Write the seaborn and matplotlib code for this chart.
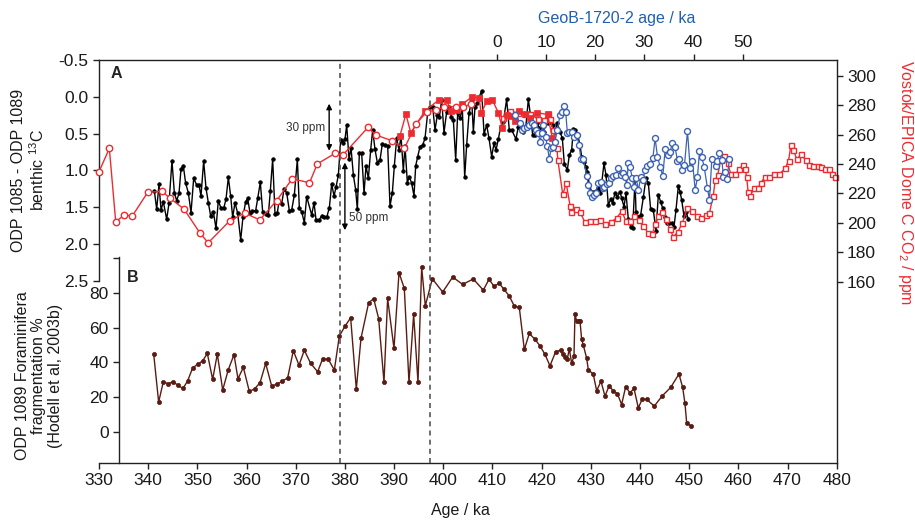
import matplotlib
matplotlib.use('Agg')
from matplotlib import pyplot as plt
import seaborn as sns

# ---- datos ----
# A: ODP 1085 - ODP 1089 benthic d13C (eje izquierdo, invertido)
age_d13c = [341.25, 341.73, 342.20, 342.61, 343.08, 343.76, 344.23, 344.84, 345.32, 345.79,
            346.27, 346.67, 347.15, 347.62, 348.16, 348.71, 349.25, 349.86, 350.33, 350.74,
            351.28, 351.76, 352.23, 352.71, 353.25, 353.79, 354.26, 354.81, 355.35, 355.82,
            356.30, 356.77, 357.18, 357.65, 358.20, 358.81, 359.28, 359.82, 360.23, 360.70,
            361.18, 361.86, 362.26, 362.80, 363.28, 363.89, 364.43, 364.84, 365.31, 365.79,
            366.26, 366.60, 367.14, 367.62, 368.16, 368.70, 369.18, 369.72, 370.33, 370.74,
            371.21, 371.75, 372.23, 373.25, 373.72, 374.13, 374.74, 375.28, 375.82, 376.30,
            376.84, 377.31, 377.79, 378.19, 378.67, 379.14, 379.55, 380.02, 380.36, 380.84,
            381.24, 381.72, 382.19, 382.53, 382.94, 383.41, 383.89, 384.29, 384.77, 385.24,
            385.65, 386.12, 386.60, 387.14, 387.61, 388.16, 388.70, 389.17, 389.65, 390.05,
            390.53, 391.00, 391.41, 391.88, 392.22, 392.70, 393.10, 393.58, 394.05, 394.39,
            394.80, 395.27, 395.82, 396.29, 396.83, 397.31, 397.85, 398.32, 398.80, 399.20,
            399.68, 400.15, 400.70, 401.17, 401.64, 402.05, 402.53, 402.93, 403.41, 403.88,
            404.36, 404.76, 405.24, 405.78, 406.12, 406.46, 406.93, 407.34, 407.81, 408.29,
            408.83, 409.30, 409.84, 410.32, 410.72, 411.20, 411.67, 412.21, 412.89, 413.43,
            413.91, 414.79, 415.26, 415.74, 416.28, 416.76, 417.30, 417.77, 418.18, 418.65,
            419.13, 419.53, 420.01, 420.48, 420.89, 421.36, 421.70, 422.25, 422.72, 423.20,
            423.74, 424.21, 424.62, 425.23, 425.63, 426.11, 426.45, 426.79, 427.33, 427.80,
            428.14, 428.62, 429.02, 429.29, 429.70, 430.18, 430.65, 431.06, 431.53, 431.87,
            432.21, 432.68, 433.09, 433.56, 434.04, 434.45, 434.92, 435.39, 435.94, 436.28,
            436.75, 437.16, 437.63, 438.11, 438.51, 438.99, 439.19, 439.66, 440.14, 440.68,
            441.22, 441.70, 442.17, 442.71, 443.26, 443.73, 444.21, 444.61, 445.09, 445.56,
            445.97, 446.44, 446.92, 447.32, 447.80, 448.14, 448.48, 448.95, 449.36, 449.83]
d13c = [1.276, 1.530, 1.190, 1.539, 1.426, 1.666, 1.448, 0.873, 1.303, 1.412,
        1.312, 0.985, 0.940, 1.176, 1.303, 1.575, 1.108, 1.199, 1.199, 1.349,
        0.873, 1.244, 1.439, 1.621, 1.562, 1.788, 1.412, 1.516, 1.516, 1.394,
        1.095, 1.349, 1.639, 1.439, 1.584, 1.947, 1.630, 1.426, 1.381, 1.575,
        1.553, 1.548, 1.381, 1.163, 1.562, 1.594, 1.607, 1.276, 0.846, 1.594,
        1.575, 1.426, 1.457, 1.258, 1.303, 1.548, 1.539, 1.335, 0.850, 1.516,
        1.562, 1.711, 1.358, 1.607, 1.439, 1.675, 1.675, 1.621, 1.630, 1.639,
        1.507, 1.186, 1.349, 1.231, 1.063, 0.587, 0.633, 0.578, 0.384, 0.850,
        0.692, 1.063, 1.267, 1.530, 0.769, 0.769, 1.312, 0.941, 1.109, 0.723,
        0.452, 0.714, 0.896, 0.859, 0.642, 0.655, 0.669, 1.485, 1.303, 0.941,
        0.565, 0.723, 0.533, 1.004, 0.669, 1.167, 1.086, 1.176, 1.349, 0.941,
        0.814, 0.678, 0.655, 0.565, 0.216, 0.134, 0.134, 0.452, 0.248, 0.279,
        0.044, 0.488, 0.202, 0.134, 0.270, 0.316, 0.859, 0.225, 0.293, 0.157,
        1.095, 0.655, 0.225, 0.044, 0.474, 0.134, 0.089, -0.002, -0.083, 0.506,
        0.384, 0.565, 0.814, 0.633, 0.723, 0.578, 0.406, 0.338, 0.035, 0.452,
        0.452, 0.574, 0.406, 0.361, 0.474, 0.429, 0.035, 0.270, 0.519, 0.519,
        0.361, 0.429, 0.406, 0.474, 0.307, 0.361, 0.338, 0.384, 0.474, 0.361,
        0.474, 0.565, 0.914, 0.995, 0.791, 0.723, 0.442, 0.452, 0.519, 0.655,
        0.814, 0.882, 0.950, 1.018, 1.199, 1.290, 1.290, 1.281, 1.244, 1.312,
        1.176, 0.905, 1.063, 1.471, 1.394, 1.448, 1.303, 1.358, 1.290, 1.380,
        1.494, 1.312, 1.666, 1.766, 1.788, 1.131, 1.562, 1.630, 1.607, 1.367,
        1.109, 1.176, 1.530, 1.539, 1.820, 1.335, 1.426, 1.516, 1.630, 1.711,
        1.711, 1.720, 1.766, 1.539, 1.213, 1.290, 1.403, 1.621, 1.562, 1.661]

# GeoB-1720-2 (edad propia, eje superior)
geob_age = [3.69, 4.70, 5.18, 5.58, 6.06, 6.53, 7.08, 7.55, 7.96, 8.43,
            8.77, 9.18, 9.45, 9.92, 10.26, 10.67, 11.01, 11.35, 11.82, 12.29,
            12.84, 13.31, 13.65, 13.99, 14.33, 14.73, 15.21, 15.68, 16.23, 16.70,
            17.11, 17.58, 18.26, 18.60, 18.94, 19.28, 19.75, 20.16, 20.63, 21.11,
            21.51, 21.85, 22.33, 22.87, 23.21, 23.68, 24.22, 24.70, 25.17, 25.58,
            26.05, 26.39, 26.73, 27.07, 27.54, 27.88, 28.32, 28.79, 29.27, 29.68,
            30.15, 30.62, 31.17, 31.71, 32.18, 32.66, 33.20, 33.74, 34.22, 34.76,
            35.23, 35.71, 36.25, 36.72, 37.13, 37.67, 38.15, 38.76, 39.30, 39.77,
            40.32, 40.79, 41.20, 41.67, 42.15, 42.82, 43.23, 43.71, 44.59, 44.86,
            45.26, 45.74, 46.08, 46.42, 46.76, 47.30]
geob_val = [0.248, 0.361, 0.452, 0.429, 0.406, 0.384, 0.361, 0.384, 0.452, 0.497,
            0.610, 0.497, 0.384, 0.551, 0.669, 0.850, 0.701, 0.678, 0.610, 0.452,
            0.248, 0.202, 0.125, 0.202, 0.488, 0.474, 0.474, 0.542, 0.519, 0.655,
            0.850, 0.850, 1.077, 1.199, 1.312, 1.358, 1.335, 1.303, 1.176, 1.154,
            1.244, 1.222, 1.186, 1.176, 1.109, 1.077, 1.063, 0.973, 1.063, 1.041,
            1.086, 1.199, 0.905, 0.950, 1.109, 1.222, 1.109, 1.267, 1.086, 1.131,
            0.995, 0.941, 0.918, 0.837, 0.565, 0.814, 0.950, 1.077, 0.714, 0.791,
            0.746, 0.624, 0.687, 0.868, 0.846, 0.995, 0.927, 0.465, 0.973, 0.873,
            1.267, 1.095, 0.737, 0.823, 0.950, 1.244, 1.403, 0.846, 0.941, 0.868,
            0.760, 0.859, 1.086, 1.018, 1.122, 0.846]
GEOB_OFFSET = 410.9  # edad GeoB 0 ka = 410.9 ka

# CO2 Vostok (circulos abiertos)
vostok_age = [330.0, 332.1, 333.4, 335.1, 336.8, 339.9, 342.8, 344.5, 347.3, 350.5,
              352.2, 356.6, 359.6, 362.7, 366.1, 369.3, 372.8, 374.4, 378.0, 379.6,
              384.7, 386.3, 389.6, 392.1, 394.4, 396.6, 398.5, 400.2, 402.5, 404.1, 405.6]
vostok_co2 = [234.7, 250.6, 200.7, 205.2, 204.8, 220.7, 221.4, 216.6, 209.3, 193.2,
              186.4, 201.4, 206.6, 202.0, 215.0, 230.0, 227.2, 240.1, 247.2, 246.1,
              264.9, 259.7, 255.8, 250.6, 267.0, 275.3, 276.7, 278.9, 279.0, 279.0, 280.5]

# CO2 Dome C alta resolucion (cuadrados rellenos)
edc_hr_age = [391.2, 392.4, 393.4, 396.3, 399.1, 400.7, 401.5, 402.7, 403.8, 405.9,
              407.3, 407.7, 408.9, 410.0, 411.2, 412.0, 412.9, 413.7, 414.6, 415.5,
              416.6, 417.6, 419.1, 421.2, 422.2]
edc_hr_co2 = [259.2, 273.9, 261.2, 276.2, 283.5, 283.5, 276.2, 276.7, 280.5, 285.8,
              284.6, 274.6, 282.8, 283.5, 274.8, 264.6, 273.3, 272.6, 269.2, 276.0,
              273.7, 271.0, 274.8, 273.7, 257.4]

# CO2 EPICA Dome C (cuadrados abiertos)
edc_age = [412.1, 413.6, 415.2, 416.6, 417.6, 419.3, 420.5, 421.3, 421.7, 422.3,
           423.1, 423.3, 424.3, 425.0, 425.8, 426.0, 426.9, 427.8, 428.8, 429.8,
           430.9, 431.9, 432.9, 434.2, 435.3, 436.3, 437.1, 438.0, 438.8, 439.8,
           440.7, 441.6, 442.5, 443.1, 443.6, 444.5, 445.2, 446.1, 446.8, 447.7,
           448.6, 449.6, 450.5, 451.5, 452.4, 453.4, 454.1, 454.9, 455.3, 455.8,
           456.4, 457.1, 457.8, 458.5, 459.4, 460.1, 460.9, 461.4, 461.7, 462.0,
           462.4, 463.2, 463.9, 464.6, 465.4, 466.3, 467.2, 468.3, 469.5, 470.2,
           470.7, 471.2, 471.9, 472.7, 473.7, 474.4, 475.2, 476.1, 476.9, 477.6,
           478.4, 479.0, 479.7]
edc_co2 = [271.2, 276.0, 274.6, 273.9, 273.9, 270.5, 269.9, 273.9, 270.5, 263.1,
           251.0, 242.7, 219.3, 226.8, 211.4, 207.1, 209.3, 207.5, 200.3, 201.4,
           201.4, 201.8, 198.9, 200.7, 203.4, 208.0, 201.4, 201.2, 204.6, 201.8,
           198.0, 193.2, 192.3, 199.1, 204.6, 207.5, 202.3, 195.5, 190.5, 193.9,
           199.6, 209.8, 208.2, 204.6, 203.0, 205.2, 206.4, 218.4, 229.0, 232.4,
           242.7, 245.4, 240.8, 232.9, 232.9, 236.3, 239.0, 236.3, 230.9, 220.7,
           218.4, 223.4, 223.4, 227.2, 231.3, 230.9, 232.9, 232.9, 237.0, 242.0,
           252.9, 249.5, 243.1, 246.5, 242.7, 239.3, 238.8, 238.6, 237.7, 236.5,
           236.5, 232.9, 230.9]

# B: ODP 1089 fragmentacion de foraminiferos (%)
frag_age = [341.12, 342.13, 343.08, 344.03, 345.05, 346.06, 347.08, 348.03, 349.05, 350.13,
            351.08, 352.03, 353.11, 354.06, 355.15, 356.30, 357.45, 358.26, 359.35, 360.57,
            361.65, 362.74, 363.89, 365.11, 366.19, 367.28, 368.36, 369.51, 370.67, 371.75,
            373.04, 374.46, 375.48, 376.63, 377.85, 378.87, 380.02, 381.17, 382.32, 383.27,
            384.83, 385.85, 386.86, 387.95, 388.69, 389.98, 391.00, 392.08, 393.03, 393.98,
            394.86, 395.61, 396.35, 397.78, 399.88, 401.91, 403.94, 406.11, 408.14, 409.30,
            410.31, 411.40, 412.35, 413.43, 414.45, 415.46, 416.48, 417.50, 418.65, 419.67,
            420.68, 421.70, 422.85, 423.87, 424.28, 424.75, 425.22, 425.63, 426.11, 426.58,
            426.78, 427.12, 427.53, 427.80, 428.14, 428.48, 429.16, 429.49, 430.51, 431.19,
            432.07, 432.88, 433.70, 434.58, 435.39, 436.27, 437.09, 437.97, 438.78, 439.66,
            440.47, 441.36, 442.91, 444.54, 446.24, 447.93, 448.68, 449.15, 449.49, 450.37]
frag_pct = [44.8, 17.2, 28.9, 27.7, 28.9, 26.8, 25.0, 29.4, 36.9, 39.0,
            40.9, 45.1, 30.2, 44.8, 24.1, 35.9, 44.4, 30.6, 37.1, 23.3,
            24.8, 28.3, 39.4, 26.4, 27.5, 29.2, 31.1, 46.7, 38.4, 47.0,
            39.4, 34.6, 42.1, 41.7, 35.6, 55.1, 60.8, 65.6, 24.6, 53.8,
            74.3, 76.6, 65.2, 28.7, 76.7, 48.0, 91.5, 82.5, 28.5, 67.5,
            28.5, 94.6, 72.5, 88.0, 80.4, 89.0, 84.8, 87.9, 81.5, 87.7,
            83.8, 85.4, 81.9, 78.1, 72.3, 71.6, 47.4, 56.6, 53.2, 49.5,
            44.6, 38.0, 46.1, 47.0, 44.8, 42.8, 41.9, 47.8, 39.4, 43.6,
            67.5, 63.7, 63.7, 63.9, 53.2, 49.9, 42.3, 35.9, 33.1, 23.7,
            29.2, 20.6, 26.4, 23.7, 22.1, 15.8, 26.0, 22.5, 25.0, 13.9,
            18.9, 18.7, 14.9, 20.8, 25.6, 33.3, 25.6, 16.4, 5.3, 3.4]

# lineas verticales (terminacion V) y ticks
term_lines = [379.0, 397.3]
age_ticks = list(range(330, 481, 10))
geob_ticks = [0, 10, 20, 30, 40, 50]
d13c_ticks = [-0.5, 0.0, 0.5, 1.0, 1.5, 2.0, 2.5]
co2_ticks = [160, 180, 200, 220, 240, 260, 280, 300]
frag_ticks = [0, 20, 40, 60, 80, 100]

RED = '#ee2b30'
BLUE = '#3d62b3'
BROWN = '#5a1c12'
GREY = '#222222'

sns.set_theme(style='ticks')
plt.rcParams['font.family'] = ['Liberation Sans', 'DejaVu Sans']
plt.rcParams['mathtext.fontset'] = 'custom'
plt.rcParams['mathtext.rm'] = 'Liberation Sans'
plt.rcParams['axes.edgecolor'] = GREY
plt.rcParams['axes.linewidth'] = 1.0
plt.rcParams['xtick.color'] = GREY
plt.rcParams['ytick.color'] = GREY
plt.rcParams['xtick.labelcolor'] = '#1a1a1a'
plt.rcParams['ytick.labelcolor'] = '#1a1a1a'

fig = plt.figure(figsize=(9.15, 5.2), dpi=100)
L, W = 99 / 915, 737.7 / 915
ax_a = fig.add_axes([L, 1 - 280.7 / 520, W, 220.7 / 520])
ax_b = fig.add_axes([L, 1 - 463 / 520, W, 206.3 / 520])
ax_co2 = fig.add_axes([L, 1 - 463 / 520, W, 403 / 520])
ax_top = ax_a.twiny()

for ax in (ax_a, ax_b, ax_co2, ax_top):
    ax.patch.set_visible(False)
    for s in ax.spines.values():
        s.set_visible(False)
    ax.tick_params(length=4.5, width=1.0, labelsize=12.5, pad=3)

ax_a.set_zorder(1)
ax_b.set_zorder(1)
ax_co2.set_zorder(2)
ax_top.set_zorder(3)

# --- panel A: d13C ---
ax_a.set_xlim(330, 480)
ax_a.set_ylim(2.5, -0.5)
ax_a.spines['left'].set_visible(True)
ax_a.set_yticks(d13c_ticks)
ax_a.set_yticklabels(['%.1f' % v for v in d13c_ticks])
ax_a.set_xticks([])
sns.lineplot(x=age_d13c, y=d13c, ax=ax_a, sort=False, estimator=None, color='black',
             linewidth=1.0, marker='o', markersize=2.6, markeredgecolor='black',
             markeredgewidth=0.5, clip_on=False)
ax_a.set_xlabel('')
ax_a.set_ylabel('')

# --- eje superior GeoB ---
ax_top.set_xlim(330 - GEOB_OFFSET, 480 - GEOB_OFFSET)
ax_top.spines['top'].set_visible(True)
ax_top.set_xticks(geob_ticks)
ax_top.xaxis.set_ticks_position('top')
sns.lineplot(x=geob_age, y=geob_val, ax=ax_top, sort=False, estimator=None, color=BLUE,
             linewidth=0.9, marker='o', markersize=4.3, markerfacecolor='white',
             markeredgecolor=BLUE, markeredgewidth=1.0)
ax_top.set_xlabel('')

# --- CO2 (eje derecho) ---
ax_co2.set_xlim(330, 480)
ax_co2.set_ylim(36.7, 310.7)
ax_co2.spines['right'].set_visible(True)
ax_co2.yaxis.tick_right()
ax_co2.set_yticks(co2_ticks)
ax_co2.set_xticks([])
sns.lineplot(x=edc_age, y=edc_co2, ax=ax_co2, sort=False, estimator=None, color=RED,
             linewidth=1.0, marker='s', markersize=3.6, markerfacecolor='white',
             markeredgecolor=RED, markeredgewidth=1.0, clip_on=False)
sns.lineplot(x=edc_hr_age, y=edc_hr_co2, ax=ax_co2, sort=False, estimator=None, color=RED,
             linewidth=1.0, marker='s', markersize=4.6, markerfacecolor=RED,
             markeredgecolor=RED, markeredgewidth=0.5)
sns.lineplot(x=vostok_age, y=vostok_co2, ax=ax_co2, sort=False, estimator=None, color=RED,
             linewidth=1.0, marker='o', markersize=4.6, markerfacecolor='white',
             markeredgecolor=RED, markeredgewidth=1.0, clip_on=False)
ax_co2.set_xlabel('')
ax_co2.set_ylabel('')

for xv in term_lines:
    ax_co2.axvline(xv, color='#555555', linestyle=(0, (3, 2.5)), linewidth=1.2, zorder=0)

arrow = dict(arrowstyle='<|-|>', color='black', lw=1.0, mutation_scale=8, shrinkA=0, shrinkB=0)
ax_co2.annotate('', xy=(376.8, 281), xytext=(376.8, 249), arrowprops=arrow)
ax_co2.annotate('', xy=(380.0, 241), xytext=(380.0, 195), arrowprops=arrow)
ax_co2.text(376.0, 264.4, '30 ppm', ha='right', va='center', fontsize=8.5, color='#333333')
ax_co2.text(380.8, 203.4, '50 ppm', ha='left', va='center', fontsize=8.5, color='#333333')

# --- panel B: fragmentacion ---
ax_b.set_xlim(330, 480)
ax_b.set_ylim(-17.8, 100.7)
ax_b.spines['bottom'].set_visible(True)
ax_b.spines['left'].set_visible(True)
ax_b.spines['left'].set_position(('data', 334.07))
ax_b.set_xticks(age_ticks)
ax_b.set_yticks(frag_ticks)
ax_b.set_yticklabels([str(v) if v < 100 else '' for v in frag_ticks])
sns.lineplot(x=frag_age, y=frag_pct, ax=ax_b, sort=False, estimator=None, color=BROWN,
             linewidth=1.0, marker='o', markersize=3.0, markeredgecolor=BROWN,
             markeredgewidth=0.5)
ax_b.set_xlabel('')
ax_b.set_ylabel('')

# --- textos ---
fig.text(111 / 915, 1 - 74 / 520, 'A', fontsize=11.5, fontweight='bold', ha='left', va='center', color='#222222')
fig.text(127 / 915, 1 - 278 / 520, 'B', fontsize=11.5, fontweight='bold', ha='left', va='center', color='#222222')
fig.text(29 / 915, 1 - 170 / 520, 'ODP 1085 - ODP 1089\nbenthic $^{13}$C',
         rotation=90, ha='center', va='center', fontsize=11.5, linespacing=1.15, color='#1a1a1a')
fig.text(39 / 915, 1 - 376 / 520, 'ODP 1089 Foraminifera\nfragmentation %\n(Hodell et al, 2003b)',
         rotation=90, ha='center', va='center', fontsize=11.5, linespacing=1.15, color='#1a1a1a')
fig.text(905 / 915, 1 - 183 / 520, 'Vostok/EPICA Dome C CO$_2$ / ppm', rotation=270,
         ha='center', va='center', fontsize=11.5, color=RED)
fig.text(617 / 915, 1 - 18 / 520, 'GeoB-1720-2 age / ka', ha='center', va='center',
         fontsize=11.5, color='#2060b0')
fig.text(460 / 915, 1 - 510 / 520, 'Age / ka', ha='center', va='center', fontsize=11.5, color='#1a1a1a')

fig.savefig('out.png', dpi=100)
